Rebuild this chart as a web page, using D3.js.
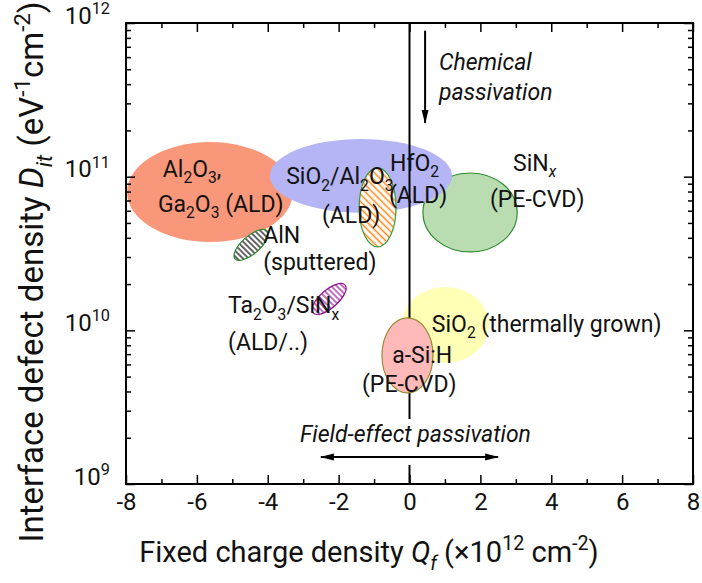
<!DOCTYPE html>
<html>
<head>
<meta charset="utf-8">
<script src="https://cdn.jsdelivr.net/npm/d3@7"></script>
<style>
  html, body { margin: 0; padding: 0; background: #fff; }
  svg { display: block; font-family: Roboto, "DejaVu Sans", sans-serif; }
</style>
</head>
<body>
<svg id="chart" width="702" height="583"></svg>
<script>
// ---------------- DATA ----------------
const xTickValues = [-8, -6, -4, -2, 0, 2, 4, 6, 8];
const xMinorValues = [-7, -5, -3, -1, 1, 3, 5, 7];
const yDecades = [1e9, 1e10, 1e11, 1e12];
const yTickLabels = ["10^{9}", "10^{10}", "10^{11}", "10^{12}"];

// ellipses (regions): center Qf (1e12 cm-2), center log10(Dit), half-width in Qf, half-height in decades, tilt (deg)
const regionNames  = ["SiNx", "Al2O3/Ga2O3", "SiO2/Al2O3 HfO2", "SiO2 thermal", "SiO2/Al2O3 hatched", "AlN", "Ta2O3/SiNx", "a-Si:H"];
const regionQf     = [1.71, -5.63, -1.37, 1.015, -0.90, -4.47, -2.27, -0.057];
const regionLogDit = [10.767, 10.90, 11.005, 10.035, 10.80, 10.556, 10.204, 9.837];
const regionHalfQf = [1.33, 2.34, 2.57, 1.23, 0.52, 0.60, 0.60, 0.72];
const regionHalfDec= [0.257, 0.325, 0.24, 0.247, 0.257, 0.058, 0.058, 0.244];
const regionTilt   = [0, 0, 0, 0, 0, -41, -41, 0];

// annotation labels: text, Qf position, log10(Dit) position (start of baseline)
const labelTexts = ["Al_{2}O_{3},", "Ga_{2}O_{3} (ALD)", "SiO_{2}/Al_{2}O_{3}", "(ALD)", "HfO_{2}", "(ALD)",
  "SiN_{!x}", "(PE-CVD)", "AlN", "(sputtered)", "Ta_{2}O_{3}/SiN_{x}", "(ALD/..)",
  "SiO_{2} (thermally grown)", "a-Si:H", "(PE-CVD)"];
const labelQf     = [-6.96, -7.10, -3.48, -2.47, -0.55, -0.58, 2.92, 2.27, -4.13, -4.13, -5.12, -5.12, 0.63, -0.49, -1.34];
const labelLogDit = [11.00, 10.77, 10.95, 10.70, 11.04, 10.83, 11.04, 10.80, 10.57, 10.39, 10.11, 9.87, 9.99, 9.79, 9.60];

// passivation arrows
const chemArrowQf = 0.44, chemArrowLog = [11.95, 11.35];
const chemText = ["*Chemical*", "*passivation*"], chemTextQf = 0.83, chemTextLog = [11.694, 11.499];
const fieldArrowQf = [-2.5, 2.5], fieldArrowLog = 9.176;
const fieldText = "*Field-effect passivation*", fieldTextQf = -3.09, fieldTextLog = 9.273;

const xLabel = "Fixed charge density *Q*_{!f} (×10^{12} cm^{-2})";
const yLabel = "Interface defect density *D*_{!it} (eV^{-1}cm^{-2})";

// ---------------- LAYOUT ----------------
const svg = d3.select("#chart");
const L = 126, R = 693, T = 23, B = 484;
const x = d3.scaleLinear().domain([-8, 8]).range([L, R]);
const y = d3.scaleLog().domain([1e9, 1e12]).range([B, T]);
const ly = v => y(Math.pow(10, v));

function rich(textSel, str, fs) {
  const re = /([_^])\{(!?)([^}]*)\}|\*([^*]*)\*|([^_^*]+)/g;
  let m, shift = 0;
  while ((m = re.exec(str))) {
    let txt, level = 0, ital = false;
    if (m[1]) { level = m[1] === "_" ? 1 : -1; ital = m[2] === "!"; txt = m[3]; }
    else if (m[4] !== undefined) { ital = true; txt = m[4]; }
    else txt = m[5];
    const target = level === 1 ? fs * 0.28 : level === -1 ? -fs * 0.40 : 0;
    const ts = textSel.append("tspan").text(txt).attr("dy", (target - shift).toFixed(2));
    shift = target;
    if (level) ts.attr("font-size", (fs * 0.68).toFixed(1));
    if (ital) ts.attr("font-style", "italic");
  }
}

const defs = svg.append("defs");
function hatch(id, color, spacing, sw, angle) {
  const p = defs.append("pattern").attr("id", id).attr("patternUnits", "userSpaceOnUse")
    .attr("width", spacing).attr("height", spacing).attr("patternTransform", `rotate(${angle})`);
  p.append("rect").attr("width", spacing).attr("height", spacing).attr("fill", "#fff");
  p.append("line").attr("x1", 0).attr("x2", spacing).attr("y1", spacing / 2).attr("y2", spacing / 2)
    .attr("stroke", color).attr("stroke-width", sw);
}
hatch("hOrange", "#ff8a1e", 5, 1.6, 45);
hatch("hBlack", "#111", 4, 1.3, 45 + 41);
hatch("hPurple", "#a0209e", 4, 1.3, 45 + 41);

const marker = defs.append("marker").attr("id", "arr").attr("markerUnits", "userSpaceOnUse")
  .attr("viewBox", "0 0 14 8").attr("markerWidth", 14).attr("markerHeight", 8)
  .attr("refX", 13).attr("refY", 4).attr("orient", "auto-start-reverse");
marker.append("path").attr("d", "M0,0.5 L14,4 L0,7.5 Z").attr("fill", "#000");

svg.append("rect").attr("x", L).attr("y", T).attr("width", R - L).attr("height", B - T).attr("fill", "#fff");

const styles = [
  { fill: "#badcb1", stroke: "#2e8b2e", sw: 1.2 },
  { fill: "#f9977b", stroke: "none", sw: 0 },
  { fill: "#b5b5f5", stroke: "none", sw: 0 },
  { fill: "#ffffb5", stroke: "none", sw: 0 },
  { fill: "url(#hOrange)", stroke: "#3a9a3a", sw: 1.2 },
  { fill: "url(#hBlack)", stroke: "#2a8a2a", sw: 1.2 },
  { fill: "url(#hPurple)", stroke: "#8c1a8c", sw: 1.2 },
  { fill: "#ffb9b9", stroke: "#9a8a38", sw: 1.2 }
];

const regions = regionNames.map((n, i) => ({
  name: n, qf: regionQf[i], ld: regionLogDit[i], hq: regionHalfQf[i], hd: regionHalfDec[i], tilt: regionTilt[i], st: styles[i]
}));

const gReg = svg.append("g");
function drawRegion(r) {
  const cx = x(r.qf), cy = ly(r.ld);
  const rx = x(r.qf + r.hq) - cx, ry = cy - ly(r.ld + r.hd);
  gReg.append("ellipse").attr("cx", cx).attr("cy", cy).attr("rx", rx).attr("ry", ry)
    .attr("transform", r.tilt ? `rotate(${r.tilt},${cx},${cy})` : null)
    .attr("fill", r.st.fill).attr("stroke", r.st.stroke).attr("stroke-width", r.st.sw);
}
// draw order
[0, 1, 2, 3].forEach(i => drawRegion(regions[i]));
// vertical line at Qf = 0
gReg.append("line").attr("x1", x(0)).attr("x2", x(0)).attr("y1", T).attr("y2", B)
  .attr("stroke", "#000").attr("stroke-width", 2);
[4, 5, 6, 7].forEach(i => drawRegion(regions[i]));

// ---------------- AXES ----------------
const fsTick = 24;
function styleAxis(g) {
  g.select(".domain").remove();
  g.selectAll(".tick line").attr("stroke", "#000").attr("stroke-width", 1.5);
  g.attr("font-family", null).attr("font-size", null);
}
const yMinor = [];
[1e9, 1e10, 1e11].forEach(d => { for (let k = 2; k <= 9; k++) yMinor.push(k * d); });

svg.append("g").attr("transform", `translate(0,${B})`)
  .call(d3.axisBottom(x).tickValues(xTickValues).tickSize(-9).tickSizeOuter(0).tickPadding(9).tickFormat(d3.format("d")))
  .call(styleAxis)
  .call(g => g.selectAll("text").attr("font-size", fsTick).attr("fill", "#111").text(d => String(d)));
svg.append("g").attr("transform", `translate(0,${B})`)
  .call(d3.axisBottom(x).tickValues(xMinorValues).tickSize(-5).tickSizeOuter(0).tickFormat(""))
  .call(styleAxis);
svg.append("g").attr("transform", `translate(0,${T})`)
  .call(d3.axisTop(x).tickValues(xTickValues).tickSize(-9).tickSizeOuter(0).tickFormat(""))
  .call(styleAxis);
svg.append("g").attr("transform", `translate(0,${T})`)
  .call(d3.axisTop(x).tickValues(xMinorValues).tickSize(-5).tickSizeOuter(0).tickFormat(""))
  .call(styleAxis);

svg.append("g").attr("transform", `translate(${L},0)`)
  .call(d3.axisLeft(y).tickValues(yDecades).tickSize(-9).tickSizeOuter(0).tickPadding(16).tickFormat(""))
  .call(styleAxis)
  .call(g => g.selectAll(".tick text").each(function (d, i) {
    const t = d3.select(this).attr("font-size", fsTick).attr("fill", "#111").attr("dy", "0.42em");
    rich(t, yTickLabels[i], fsTick);
  }));
svg.append("g").attr("transform", `translate(${L},0)`)
  .call(d3.axisLeft(y).tickValues(yMinor).tickSize(-5).tickSizeOuter(0).tickFormat(""))
  .call(styleAxis);
svg.append("g").attr("transform", `translate(${R},0)`)
  .call(d3.axisRight(y).tickValues(yDecades).tickSize(-9).tickSizeOuter(0).tickFormat(""))
  .call(styleAxis);
svg.append("g").attr("transform", `translate(${R},0)`)
  .call(d3.axisRight(y).tickValues(yMinor).tickSize(-5).tickSizeOuter(0).tickFormat(""))
  .call(styleAxis);

svg.append("rect").attr("x", L).attr("y", T).attr("width", R - L).attr("height", B - T)
  .attr("fill", "none").attr("stroke", "#000").attr("stroke-width", 2);

// axis titles
const xt = svg.append("text").attr("x", 369).attr("y", 562).attr("text-anchor", "middle")
  .attr("font-size", 29).attr("fill", "#111");
rich(xt, xLabel, 29);
const yt = svg.append("text").attr("transform", "translate(43,272) rotate(-90)").attr("text-anchor", "middle")
  .attr("font-size", 33).attr("fill", "#111");
rich(yt, yLabel, 33);

// ---------------- ANNOTATIONS ----------------
const fsLab = 23;
labelTexts.forEach((s, i) => {
  const t = svg.append("text").attr("x", x(labelQf[i])).attr("y", ly(labelLogDit[i]))
    .attr("font-size", fsLab).attr("fill", "#111");
  rich(t, s, fsLab);
});

// chemical passivation
svg.append("line").attr("x1", x(chemArrowQf)).attr("x2", x(chemArrowQf))
  .attr("y1", ly(chemArrowLog[0])).attr("y2", ly(chemArrowLog[1]))
  .attr("stroke", "#000").attr("stroke-width", 2).attr("marker-end", "url(#arr)");
chemText.forEach((s, i) => {
  const t = svg.append("text").attr("x", x(chemTextQf)).attr("y", ly(chemTextLog[i]))
    .attr("font-size", fsLab).attr("fill", "#111");
  rich(t, s, fsLab);
});

// field-effect passivation (white box hides the Qf=0 line)
const gField = svg.append("g");
const bg = gField.append("rect").attr("fill", "#fff");
const ft = gField.append("text").attr("x", x(fieldTextQf)).attr("y", ly(fieldTextLog))
  .attr("font-size", fsLab).attr("fill", "#111");
rich(ft, fieldText, fsLab);
gField.append("line").attr("x1", x(fieldArrowQf[0])).attr("x2", x(fieldArrowQf[1]))
  .attr("y1", ly(fieldArrowLog)).attr("y2", ly(fieldArrowLog))
  .attr("stroke", "#000").attr("stroke-width", 2)
  .attr("marker-start", "url(#arr)").attr("marker-end", "url(#arr)");
const bb = gField.node().getBBox();
bg.attr("x", bb.x - 2).attr("y", bb.y - 2).attr("width", bb.width + 4).attr("height", bb.height + 10);
</script>
</body>
</html>
